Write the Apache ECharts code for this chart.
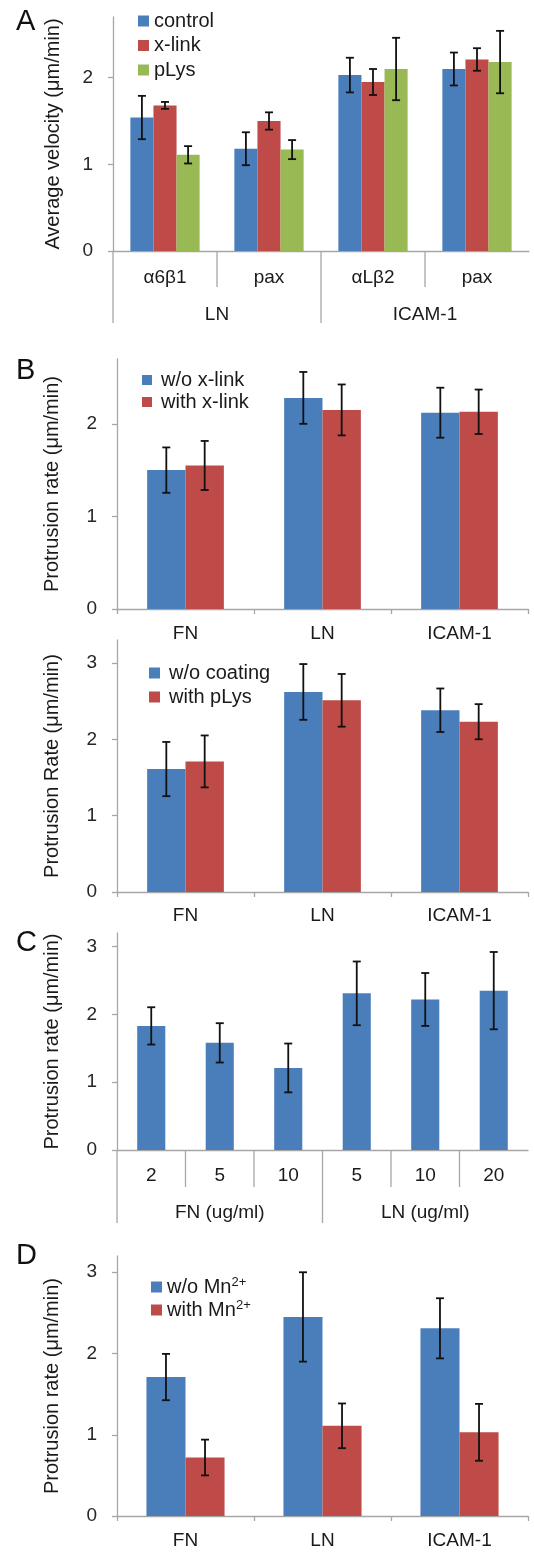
<!DOCTYPE html>
<html>
<head>
<meta charset="utf-8">
<script src="https://cdn.jsdelivr.net/npm/echarts@6/dist/echarts.min.js"></script>
<style>
html,body{margin:0;padding:0;background:#fff;}
#chart{width:534px;height:1552px;}
</style>
</head>
<body>
<div id="chart"></div>
<script>
// ---------- DATA ----------
const catsA = ['α6β1', 'pax', 'αLβ2', 'pax'];
const groupsA = ['LN', 'ICAM-1'];
const namesA = ['control', 'x-link', 'pLys'];
const controlA = [1.54, 1.18, 2.03, 2.10];
const controlErrA = [0.25, 0.19, 0.20, 0.19];
const xlinkA = [1.68, 1.50, 1.95, 2.21];
const xlinkErrA = [0.04, 0.10, 0.15, 0.13];
const plysA = [1.11, 1.17, 2.10, 2.18];
const plysErrA = [0.10, 0.11, 0.36, 0.36];

const catsB = ['FN', 'LN', 'ICAM-1'];
const namesB1 = ['w/o x-link', 'with x-link'];
const woXlinkB = [1.50, 2.28, 2.12];
const woXlinkErrB = [0.245, 0.28, 0.27];
const withXlinkB = [1.55, 2.15, 2.13];
const withXlinkErrB = [0.265, 0.275, 0.24];

const namesB2 = ['w/o coating', 'with pLys'];
const woCoatB = [1.61, 2.62, 2.38];
const woCoatErrB = [0.355, 0.365, 0.285];
const withPlysB = [1.71, 2.51, 2.23];
const withPlysErrB = [0.34, 0.345, 0.23];

const catsC = ['2', '5', '10', '5', '10', '20'];
const groupsC = ['FN (ug/ml)', 'LN (ug/ml)'];
const valuesC = [1.83, 1.58, 1.21, 2.31, 2.22, 2.35];
const errC = [0.275, 0.29, 0.36, 0.47, 0.39, 0.57];

const catsD = ['FN', 'LN', 'ICAM-1'];
const namesD = ['w/o Mn2+', 'with Mn2+'];
const woMnD = [1.71, 2.45, 2.31];
const woMnErrD = [0.285, 0.55, 0.37];
const withMnD = [0.72, 1.11, 1.03];
const withMnErrD = [0.22, 0.275, 0.35];

const ticks3 = [0, 1, 2, 3];
const ticks2 = [0, 1, 2];

// ---------- STYLE ----------
const FONT = 'Liberation Sans, Arial, sans-serif';
const BLUE = '#4a7ebb', RED = '#be4b48', GREEN = '#98b954';
const AXIS = '#a6a6a6';
const TXT = '#1a1a1a';

const grids = [
  {left: 113, right: 5, top: 17, height: 234},   // A
  {left: 117, right: 6, top: 359, height: 250},  // B1
  {left: 117, right: 6, top: 640, height: 252},  // B2
  {left: 117, right: 6, top: 933, height: 217},  // C
  {left: 117, right: 6, top: 1256, height: 260}  // D
];
const yMax = [2.7, 2.7, 3.3, 3.2, 3.2];
const yTitles = ['Average velocity (μm/min)', 'Protrusion rate (μm/min)', 'Protrusion Rate (μm/min)', 'Protrusion rate (μm/min)', 'Protrusion rate (μm/min)'];
const yTicks = [ticks2, ticks2, ticks3, ticks3, ticks3];
const nameGaps = [50, 55, 55, 55, 55];

const xAxes = [];
const yAxes = [];
const primCats = [catsA, catsB, catsB, catsC, catsD];
const primMargins = [17, 15, 14, 16, 15];
for (let i = 0; i < 5; i++) {
  xAxes.push({
    type: 'category', gridIndex: i, data: primCats[i],
    axisLine: {lineStyle: {color: AXIS, width: 1.3}},
    axisTick: {show: (i === 1 || i === 2 || i === 4), length: 5, lineStyle: {color: AXIS, width: 1.3}},
    axisLabel: {color: TXT, fontSize: 19, fontFamily: FONT, margin: primMargins[i], interval: 0}
  });
  yAxes.push({
    type: 'value', gridIndex: i, min: 0, max: yMax[i], interval: 1,
    name: yTitles[i], nameLocation: 'middle', nameGap: nameGaps[i],
    nameTextStyle: {color: TXT, fontSize: 20, fontFamily: FONT},
    axisLine: {show: true, lineStyle: {color: AXIS, width: 1.3}},
    axisTick: {show: true, length: 5, lineStyle: {color: AXIS, width: 1.3}, customValues: yTicks[i]},
    axisLabel: {color: '#262626', fontSize: 19, fontFamily: FONT, margin: 20, customValues: yTicks[i]},
    splitLine: {show: false}
  });
}
xAxes.push({
  type: 'category', gridIndex: 0, data: groupsA, position: 'bottom',
  axisLine: {show: false}, axisTick: {show: false},
  axisLabel: {color: TXT, fontSize: 19, fontFamily: FONT, margin: 54, interval: 0}
});
xAxes.push({
  type: 'category', gridIndex: 3, data: groupsC, position: 'bottom',
  axisLine: {show: false}, axisTick: {show: false},
  axisLabel: {color: TXT, fontSize: 19, fontFamily: FONT, margin: 53, interval: 0}
});

const series = [];
function addBars(gi, names, vals, errs, colors, frac) {
  const n = vals.length;
  for (let k = 0; k < n; k++) {
    series.push({
      type: 'bar', name: names ? names[k] : undefined,
      xAxisIndex: gi, yAxisIndex: gi,
      data: vals[k], barWidth: (frac * 100) + '%', barGap: '0%',
      itemStyle: {color: colors[k]}, z: 2
    });
  }
  for (let k = 0; k < n; k++) {
    const idx = k;
    series.push({
      type: 'custom', xAxisIndex: gi, yAxisIndex: gi, z: 5,
      encode: {x: 0, y: 1},
      data: vals[k].map((v, j) => [j, v, errs[k][j]]),
      renderItem: function (params, api) {
        const ci = api.value(0), v = api.value(1), e = api.value(2);
        const c = api.coord([ci, v]);
        const band = api.size([1, 0])[0];
        const bw = band * frac;
        const x = c[0] + (idx - (n - 1) / 2) * bw;
        const yt = api.coord([ci, v + e])[1];
        const yb = api.coord([ci, v - e])[1];
        const cap = 4;
        const st = {stroke: '#111', lineWidth: 1.8};
        return {
          type: 'group',
          children: [
            {type: 'line', shape: {x1: x, y1: yt, x2: x, y2: yb}, style: st},
            {type: 'line', shape: {x1: x - cap, y1: yt, x2: x + cap, y2: yt}, style: st},
            {type: 'line', shape: {x1: x - cap, y1: yb, x2: x + cap, y2: yb}, style: st}
          ]
        };
      }
    });
  }
}
addBars(0, namesA, [controlA, xlinkA, plysA], [controlErrA, xlinkErrA, plysErrA], [BLUE, RED, GREEN], 0.222);
addBars(1, namesB1, [woXlinkB, withXlinkB], [woXlinkErrB, withXlinkErrB], [BLUE, RED], 0.28);
addBars(2, namesB2, [woCoatB, withPlysB], [woCoatErrB, withPlysErrB], [BLUE, RED], 0.28);
addBars(3, null, [valuesC], [errC], [BLUE], 0.41);
addBars(4, namesD, [woMnD, withMnD], [woMnErrD, withMnErrD], [BLUE, RED], 0.285);

const legendBase = {
  orient: 'vertical', icon: 'rect', selectedMode: false,
  textStyle: {color: TXT, fontSize: 20, fontFamily: FONT, lineHeight: 22}
};
const legends = [
  Object.assign({}, legendBase, {data: namesA, left: 133, top: 5, itemWidth: 11, itemHeight: 11, itemGap: 2.5}),
  Object.assign({}, legendBase, {data: namesB1, left: 137, top: 364, itemWidth: 10, itemHeight: 10, itemGap: 0,
    textStyle: Object.assign({}, legendBase.textStyle, {padding: [0, 0, 0, 4]})}),
  Object.assign({}, legendBase, {data: namesB2, left: 144, top: 657, itemWidth: 11, itemHeight: 11, itemGap: 2,
    textStyle: Object.assign({}, legendBase.textStyle, {padding: [0, 0, 0, 4]})}),
  Object.assign({}, legendBase, {data: namesD, left: 146, top: 1271, itemWidth: 11, itemHeight: 11, itemGap: 1,
    formatter: function (name) { return name.replace('Mn2+', 'Mn{sup|2+}'); },
    textStyle: Object.assign({}, legendBase.textStyle, {
      rich: {sup: {fontSize: 13, fontFamily: FONT, color: TXT, padding: [0, 0, 9, 0]}}
    })})
];

const chart = echarts.init(document.getElementById('chart'), null, {renderer: 'canvas'});
chart.setOption({
  animation: false,
  backgroundColor: '#fff',
  grid: grids,
  xAxis: xAxes,
  yAxis: yAxes,
  legend: legends,
  series: series
});

function boundaries(axisIndex, n) {
  const cs = [];
  for (let j = 0; j < n; j++) cs.push(chart.convertToPixel({xAxisIndex: axisIndex}, j));
  const w = n > 1 ? cs[1] - cs[0] : 0;
  const b = [];
  for (let j = 0; j < n; j++) b.push(cs[j] - w / 2);
  return b;
}
function y0(gi) { return chart.convertToPixel({yAxisIndex: gi}, 0); }
const graphics = [];
const lineSt = {stroke: AXIS, lineWidth: 1.3};
(function () {
  const base = y0(0);
  boundaries(0, catsA.length).forEach(function (x, j) {
    const major = (j % 2 === 0);
    graphics.push({type: 'line', shape: {x1: x, y1: base, x2: x, y2: base + (major ? 72 : 36)}, style: lineSt});
  });
  const base3 = y0(3);
  boundaries(3, catsC.length).forEach(function (x, j) {
    const major = (j % 3 === 0);
    graphics.push({type: 'line', shape: {x1: x, y1: base3, x2: x, y2: base3 + (major ? 73 : 37)}, style: lineSt});
  });
})();
const letters = [['A', 7], ['B', 356], ['C', 928], ['D', 1241]];
letters.forEach(function (l) {
  graphics.push({type: 'text', left: 16, top: l[1], style: {text: l[0], fill: '#111', fontSize: 29, fontFamily: FONT}});
});
chart.setOption({graphic: graphics});
</script>
</body>
</html>
